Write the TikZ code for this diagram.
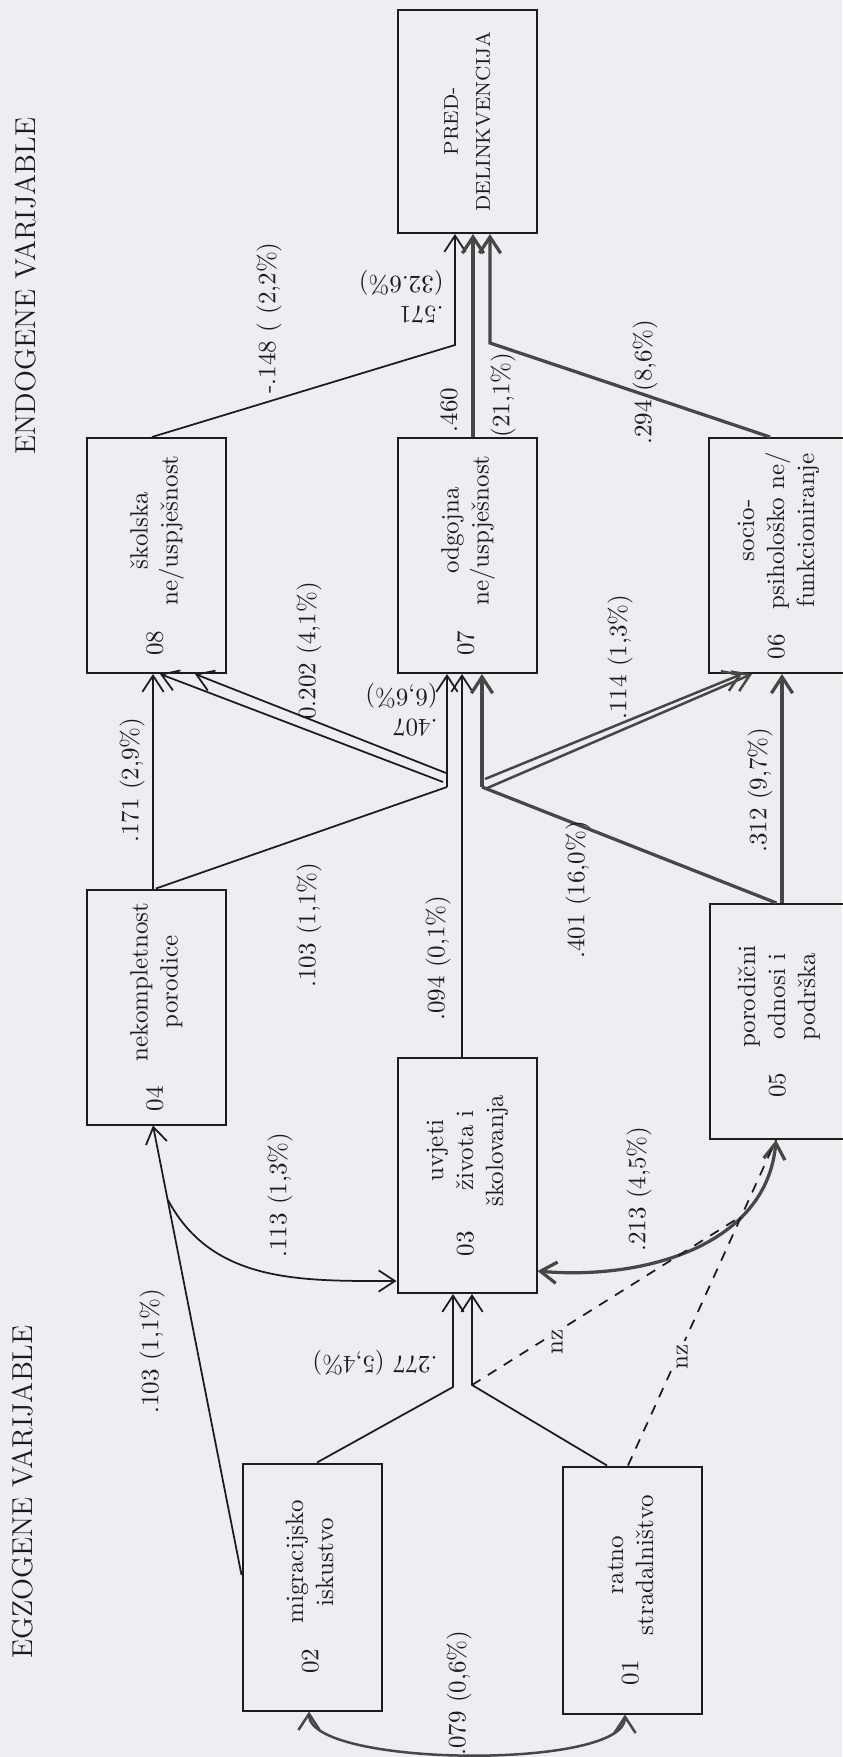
\documentclass[tikz,border=0pt]{standalone}
\usepackage{fontspec}
\usepackage{graphicx}
\usetikzlibrary{arrows.meta, calc}
\definecolor{paper}{RGB}{237,237,242}
\definecolor{ink}{HTML}{1C1C1C}
\definecolor{inkgray}{HTML}{474747}

\begin{document}
\begin{tikzpicture}[
    x=0.4pt, y=0.4pt,
    var/.style={draw=ink, line width=0.8pt, minimum width=55.6pt, minimum height=94pt,
                inner sep=0pt, text=ink},
    lbl/.style={rotate=90, inner sep=0pt, text=ink},
    flip/.style={rotate=180, inner sep=0pt, text=ink, align=left, anchor=west},
    ttl/.style={rotate=90, inner sep=0pt, text=ink, font=\fontsize{11.5}{13}\selectfont},
    ln/.style={draw=ink, line width=0.7pt},
    lnmid/.style={draw=inkgray, line width=1pt},
    lnbold/.style={draw=inkgray, line width=1.3pt},
    arr/.style={-{Straight Barb[length=6.5pt, width=8.5pt]}},
    darr/.style={{Straight Barb[length=6.5pt, width=8.5pt]}-{Straight Barb[length=6.5pt, width=8.5pt]}},
    nzline/.style={draw=ink, line width=0.7pt, dash pattern=on 4pt off 3.5pt},
  ]

  % -- page --
  \fill[paper] (0,0) rectangle (842,-1757);
  \useasboundingbox (0,0) rectangle (842,-1757);

  % -- titles --
  \node[ttl] (tEndo) at (26,-286) {ENDOGENE VARIJABLE};
  \node[ttl] (tEgzo) at (23,-1492) {EGZOGENE VARIJABLE};

  % -- criterion --
  \node[var, minimum height=89.2pt] (vP) at (467.5,-121.5)
    {\rotatebox{90}{\fontsize{8}{12.8}\selectfont\begin{tabular}{@{}c@{}}PRED-\\DELINKVENCIJA\end{tabular}}};

  % -- endogenous, upper row --
  \node[var] (v08) at (156.5,-555.5)
    {\rotatebox{90}{08\hspace{10pt}\begin{tabular}{@{}c@{}}školska\\ne/uspješnost\end{tabular}}};
  \node[var] (v07) at (467.5,-555.5)
    {\rotatebox{90}{07\hspace{10pt}\begin{tabular}{@{}c@{}}odgojna\\ne/uspješnost\end{tabular}}};
  \node[var] (v06) at (778,-555.5)
    {\rotatebox{90}{06\hspace{10pt}\begin{tabular}{@{}c@{}}socio-\\psihološko ne/\\funkcioniranje\end{tabular}}};

  % -- endogenous, lower row --
  \node[var] (v04) at (156.5,-1007)
    {\rotatebox{90}{04\hspace{10pt}\begin{tabular}{@{}c@{}}nekompletnost\\porodice\end{tabular}}};
  \node[var] (v03) at (467,-1175.5)
    {\rotatebox{90}{03\hspace{10pt}\begin{tabular}{@{}c@{}}uvjeti\\života i\\školovanja\end{tabular}}};
  \node[var] (v05) at (779,-1021.5)
    {\rotatebox{90}{05\hspace{10pt}\begin{tabular}{@{}c@{}}porodični\\odnosi i\\podrška\end{tabular}}};

  % -- exogenous --
  \node[var, minimum height=98.8pt] (v02) at (312,-1587)
    {\rotatebox{90}{02\hspace{10pt}\begin{tabular}{@{}c@{}}migracijsko\\iskustvo\end{tabular}}};
  \node[var, minimum height=98.8pt] (v01) at (632,-1590)
    {\rotatebox{90}{01\hspace{10pt}\begin{tabular}{@{}c@{}}ratno\\stradalništvo\end{tabular}}};

  % -- bends and junctions --
  \coordinate (b08) at (455,-345);
  \coordinate (b06) at (490,-343);
  \coordinate (jL) at (447,-787);
  \coordinate (jR) at (482,-787);
  \coordinate (jLa) at (443,-782);
  \coordinate (jLb) at (446,-773);
  \coordinate (jRa) at (485,-779);
  \coordinate (jRb) at (485,-789);
  \coordinate (j02) at (453,-1387);
  \coordinate (j01) at (472,-1385);
  \coordinate (p02) at (168,-1200);
  \coordinate (c03) at ([xshift=-2pt]v03.north);
  \coordinate (c05) at ([xshift=1.2pt]v05.north);

  % -- paths into PRED-DELINKVENCIJA --
  \draw[ln, arr] ([xshift=-1.8pt]v08.north) -- (b08) -- (b08 |- vP.south);
  \draw[lnbold, arr] ([xshift=2.2pt]v07.north) -- ([xshift=2.2pt]vP.south);
  \draw[lnbold, arr] ([xshift=-3.2pt]v06.north) -- (b06) -- (b06 |- vP.south);

  % -- paths into 08 --
  \draw[ln, arr] ([xshift=-1.4pt]v04.north) -- ([xshift=-1.4pt]v08.south);
  \draw[ln, arr] (jLa) -- ([xshift=1.4pt]v08.south);
  \draw[ln, arr] (jLb) -- ([xshift=15.4pt]v08.south);

  % -- paths into 07 --
  \draw[ln] ([xshift=-0.2pt]v04.north) -- (jL);
  \draw[ln, arr] (jL) -- (jL |- v07.south);
  \draw[ln, arr] (c03) -- (c03 |- v07.south);
  \draw[lnbold] ([xshift=-1pt]v05.north) -- (jR);
  \draw[lnbold, arr] (jR) -- (jR |- v07.south);

  % -- paths into 06 --
  \draw[lnmid, arr] (jRa) -- ([xshift=-14.4pt]v06.south);
  \draw[lnmid, arr] (jRb) -- ([xshift=-10.4pt]v06.south);
  \draw[lnbold, arr] (c05) -- (c05 |- v06.south);

  % -- paths from the exogenous variables --
  \draw[ln, arr] ([yshift=4.8pt]v02.west) -- ([xshift=-1.4pt]v04.south);
  \draw[ln, arr] (p02) to[out=-62, in=180] ([yshift=5.2pt]v03.south west);
  \draw[ln, arr] ([xshift=2pt]v02.north) -- (j02) -- (j02 |- v03.south);
  \draw[ln, arr] ([xshift=-10pt]v01.north) -- (j01) -- (j01 |- v03.south);

  % -- correlations --
  \draw[lnbold, darr] ([yshift=-38.2pt]v03.east) to[out=-5, in=-95]
    coordinate[pos=0.7] (nzA) ([xshift=-1.2pt]v05.south);
  \draw[lnmid, darr] ([xshift=-1.2pt]v02.south) to[out=-90, in=-90, looseness=0.45]
    ([xshift=-2.8pt]v01.south);

  % -- non-significant --
  \draw[nzline] (j01) -- (nzA);
  \draw[nzline] ([xshift=-1.6pt]v01.north) -- ([xshift=-1.2pt]v05.south);

  % -- coefficients --
  \node[lbl] (k148) at (269,-318) {-.148 ( (2,2\%)};
  \node[flip] (k571) at (444,-297) {.571\\(32.6\%)};
  \node[lbl] (k460) at (449,-410) {.460};
  \node[lbl] (k211) at (503,-395) {(21,1\%)};
  \node[lbl] (k294) at (645,-382) {.294 (8,6\%)};
  \node[lbl] (k171) at (132,-780) {.171 (2,9\%)};
  \node[lbl] (k202) at (309,-651) {0.202 (4,1\%)};
  \node[flip] (k407) at (438,-710) {.407\\(6,6\%)};
  \node[lbl] (k114) at (620,-657) {.114 (1,3\%)};
  \node[lbl] (k312) at (760,-790) {.312 (9,7\%)};
  \node[lbl] (k103a) at (309,-925) {.103 (1,1\%)};
  \node[lbl] (k094) at (438,-958) {.094 (0,1\%)};
  \node[lbl] (k401) at (578,-890) {.401 (16,0\%)};
  \node[lbl] (k113) at (280,-1195) {.113 (1,3\%)};
  \node[lbl] (k103b) at (152,-1351) {.103 (1,1\%)};
  \node[lbl] (k213) at (639,-1189) {.213 (4,5\%)};
  \node[flip, anchor=center] (k277) at (375,-1363) {.277 (5,4\%)};
  \node[lbl, fill=paper, inner sep=1.5pt] (knz1) at (557,-1342) {nz};
  \node[lbl, fill=paper, inner sep=1.5pt] (knz2) at (682,-1357) {nz};
  \node[lbl] (k079) at (459,-1693) {.079 (0,6\%)};

\end{tikzpicture}
\end{document}
